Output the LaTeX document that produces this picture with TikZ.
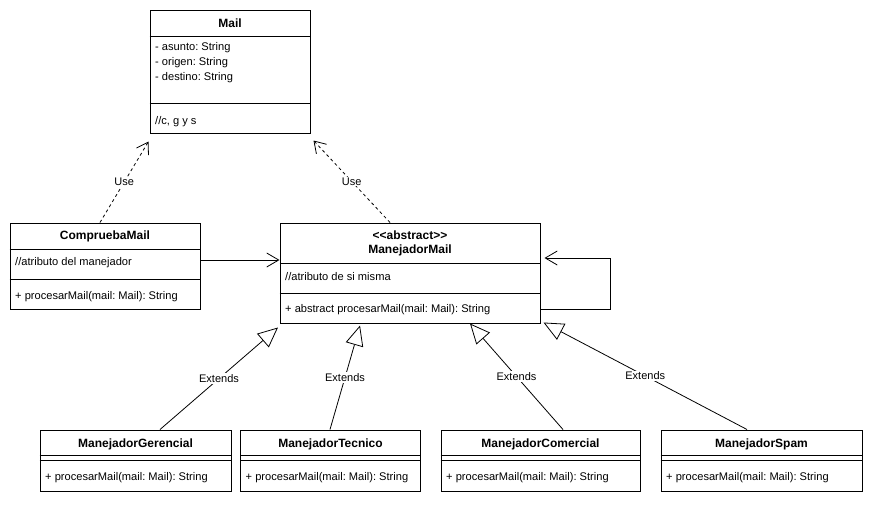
\documentclass[tikz,border=0pt]{standalone}
\usepackage{fontspec}
\setmainfont{Liberation Sans}
\usetikzlibrary{arrows.meta}
\frenchspacing
\begin{document}
\begin{tikzpicture}[x=1pt,y=-1pt,
 cls/.style={draw, line width=1pt, inner sep=0pt, fill=white},
 txt/.style={anchor=west, inner sep=0pt, font=\fontsize{11.1}{13}\selectfont},
 ttl/.style={inner sep=0pt, font=\fontsize{12}{14}\selectfont\bfseries, align=center},
 lbl/.style={fill=white, inner sep=1pt, font=\fontsize{11}{13}\selectfont},
 sep/.style={line width=1pt},
 usearrow/.style={line width=0.8pt, dash pattern=on 3pt off 3pt, -{Straight Barb[length=11pt,width=14pt,line width=0.8pt]}},
 extarrow/.style={line width=0.8pt, -{Triangle[open,length=20pt,width=18pt,line width=0.8pt,fill=white]}},
 assoc/.style={line width=0.8pt, -{Straight Barb[length=12pt,width=14pt,line width=0.8pt]}}
]
\useasboundingbox (0,0) rectangle (871,504);

% Mail
\node[cls, minimum width=160pt, minimum height=123pt] (mail) at (230,71.5) {};
\node[ttl] (mailt) at (230,23) {Mail};
\draw[sep] (mail.west |- 0,36) -- (mail.east |- 0,36);
\node[txt] (ma1) at (155,48) {- asunto: String};
\node[txt] (ma2) at (155,63) {- origen: String};
\node[txt] (ma3) at (155,78) {- destino: String};
\draw[sep] (mail.west |- 0,103) -- (mail.east |- 0,103);
\node[txt] (mm1) at (155,122) {//c, g y s};

% CompruebaMail
\node[cls, minimum width=190pt, minimum height=86pt] (comp) at (105,266) {};
\node[ttl] (compt) at (105,236) {CompruebaMail};
\draw[sep] (comp.west |- 0,249) -- (comp.east |- 0,249);
\node[txt] (ca1) at (15,263) {//atributo del manejador};
\draw[sep] (comp.west |- 0,279) -- (comp.east |- 0,279);
\node[txt] (cm1) at (15,297) {+ procesarMail(mail: Mail): String};

% ManejadorMail
\node[cls, minimum width=260pt, minimum height=100pt] (man) at (410,273) {};
\node[ttl] (mant) at (410,243) {{<}{<}abstract{>}{>}\\ManejadorMail};
\draw[sep] (man.west |- 0,263) -- (man.east |- 0,263);
\node[txt] (mna1) at (285,277) {//atributo de si misma};
\draw[sep] (man.west |- 0,293) -- (man.east |- 0,293);
\node[txt] (mnm1) at (285,310) {+ abstract procesarMail(mail: Mail): String};

% Subclasses
\node[cls, minimum width=191pt, minimum height=61pt] (ger) at (135.5,460.5) {};
\node[ttl] (gert) at (135.5,444) {ManejadorGerencial};
\node[cls, minimum width=180pt, minimum height=61pt] (tec) at (330.5,460.5) {};
\node[ttl] (tect) at (330.5,444) {ManejadorTecnico};
\node[cls, minimum width=199pt, minimum height=61pt] (com) at (540.5,460.5) {};
\node[ttl] (comt) at (540.5,444) {ManejadorComercial};
\node[cls, minimum width=201pt, minimum height=61pt] (spam) at (761.5,460.5) {};
\node[ttl] (spamt) at (761.5,444) {ManejadorSpam};
\foreach \b in {ger,tec,com,spam}{
  \draw[sep] (\b.west |- 0,455) -- (\b.east |- 0,455);
  \draw[sep] (\b.west |- 0,460) -- (\b.east |- 0,460);
}
\node[txt] (gm1) at (45,478) {+ procesarMail(mail: Mail): String};
\node[txt] (tm1) at (245.5,478) {+ procesarMail(mail: Mail): String};
\node[txt] (km1) at (446,478) {+ procesarMail(mail: Mail): String};
\node[txt] (sm1) at (666,478) {+ procesarMail(mail: Mail): String};

% Use dependencies
\draw[usearrow] ([xshift=-5pt]comp.north) -- node[lbl] {Use} ([xshift=-1pt,yshift=-8pt]mail.south west);
\draw[usearrow] ([xshift=-20pt]man.north) -- node[lbl] {Use} ([xshift=3pt,yshift=-7pt]mail.south east);

% Association
\draw[assoc] (comp.east |- 0,260) -- (man.west |- 0,260);

% Self association
\coordinate (s1) at (610,309);
\coordinate (s2) at (610,258);
\draw[assoc] (man.east |- 0,309) -- (s1) -- (s2) -- ([xshift=4pt]man.east |- 0,258);

% Extends
\draw[extarrow] ([xshift=24.5pt]ger.north) -- node[lbl] {Extends} ([xshift=-132pt,yshift=-4pt]man.south);
\draw[extarrow] ([xshift=-0.5pt]tec.north) -- node[lbl] {Extends} ([xshift=-50pt,yshift=-2pt]man.south);
\draw[extarrow] ([xshift=22.5pt]com.north) -- node[lbl] {Extends} ([xshift=60pt]man.south);
\draw[extarrow] ([xshift=-14.5pt]spam.north) -- node[lbl] {Extends} ([xshift=3pt,yshift=1pt]man.south east);
\end{tikzpicture}
\end{document}
